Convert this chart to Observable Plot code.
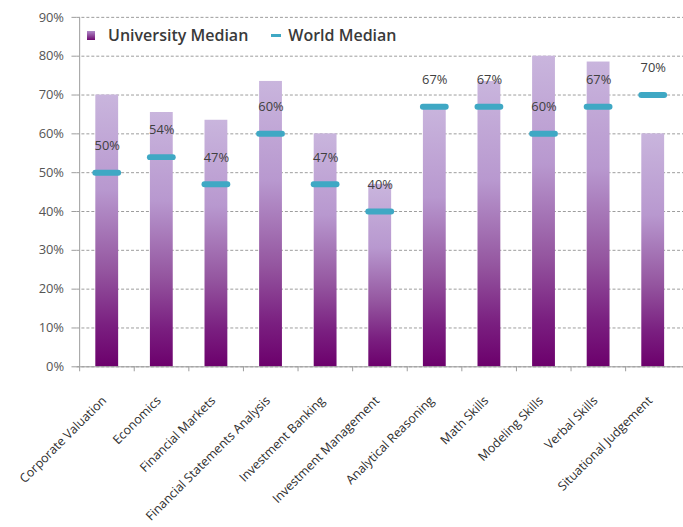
<!DOCTYPE html>
<html>
<head>
<meta charset="utf-8">
<script src="https://cdn.jsdelivr.net/npm/d3@7"></script>
<script src="https://cdn.jsdelivr.net/npm/@observablehq/plot@0.6"></script>
<style>
  html, body { margin: 0; padding: 0; background: #fff; overflow: hidden; }
  #wrap { position: relative; width: 683px; height: 527px; overflow: hidden; }
  #legend { position: absolute; top: 24px; left: 87px; display: flex; align-items: center;
    font-family: "Open Sans", sans-serif; font-weight: 600; font-size: 16px; color: #3a3a3a; }
  .sw { display: inline-block; width: 8px; height: 9px; margin-right: 13px;
    background: linear-gradient(#b08ac8, #6e0a70); }
  .dash { display: inline-block; width: 10px; height: 3px; background: #3fa8c4; margin: 0 7px 0 23px; }
</style>
</head>
<body>
<div id="wrap">
  <div id="chart"></div>
  <div id="legend"><span class="sw"></span><span>University Median</span><span class="dash"></span><span>World Median</span></div>
</div>
<script>
const categories = ["Corporate Valuation", "Economics", "Financial Markets", "Financial Statements Analysis",
  "Investment Banking", "Investment Management", "Analytical Reasoning", "Math Skills",
  "Modeling Skills", "Verbal Skills", "Situational Judgement"];
const universityMedian = [0.70, 0.655, 0.635, 0.735, 0.60, 0.47, 0.67, 0.735, 0.80, 0.785, 0.60];
const worldMedian = [0.50, 0.54, 0.47, 0.60, 0.47, 0.40, 0.67, 0.67, 0.60, 0.67, 0.70];
const yTicks = [0, 0.1, 0.2, 0.3, 0.4, 0.5, 0.6, 0.7, 0.8, 0.9];

const data = categories.map((c, i) => ({category: c, university: universityMedian[i], world: worldMedian[i]}));
const fmt = d3.format(".0%");
const W = 688, ML = 77;
const half = (W - ML) / categories.length / 2;

const svg = Plot.plot({
  width: W, height: 527,
  marginLeft: ML, marginRight: 0, marginTop: 17, marginBottom: 158,
  style: {fontFamily: "'Open Sans', sans-serif", background: "#fff"},
  x: {domain: categories, paddingInner: 0.58, paddingOuter: 0.29, label: null},
  y: {domain: [0, 0.9], label: null},
  marks: [
    Plot.gridY(yTicks, {stroke: "#9c9c9c", strokeOpacity: 1, strokeDasharray: "3,2"}),
    Plot.barY(data, {x: "category", y: "university", fill: "url(#uniGrad)"}),
    Plot.tickY(data, {x: "category", y: "world", stroke: "#3fa8c4", strokeWidth: 6, strokeLinecap: "round"}),
    Plot.text(data, {x: "category", y: "world", text: d => fmt(d.world), dy: -27, fill: "#404040", fontSize: 13}),
    Plot.ruleY([0], {stroke: "#9c9c9c"}),
    Plot.ruleX([categories[0]], {x: d => d, dx: -half, stroke: "#9c9c9c"}),
    Plot.axisY(yTicks, {tickFormat: fmt, tickSize: 5, stroke: "#9c9c9c", fill: "#555", fontSize: 13, tickPadding: 8, label: null}),
    Plot.axisX({tickSize: 5, tickFormat: () => "", dx: -half, stroke: "#9c9c9c", label: null}),
    Plot.axisX({tickSize: 0, tickRotate: -45, fill: "#2e2e2e", fontSize: 12.5, tickPadding: 6, dy: 26, dx: -3, label: null})
  ]
});

const defs = d3.select(svg).insert("defs", ":first-child");
const lg = defs.append("linearGradient").attr("id", "uniGrad")
  .attr("x1", 0).attr("y1", 0).attr("x2", 0).attr("y2", 1);
[[0, "#c9b5dd"], [0.35, "#b898cf"], [0.65, "#94559f"], [0.85, "#7a1f80"], [1, "#6c006c"]]
  .forEach(([o, c]) => lg.append("stop").attr("offset", o).attr("stop-color", c));

document.getElementById("chart").appendChild(svg);
</script>
</body>
</html>
